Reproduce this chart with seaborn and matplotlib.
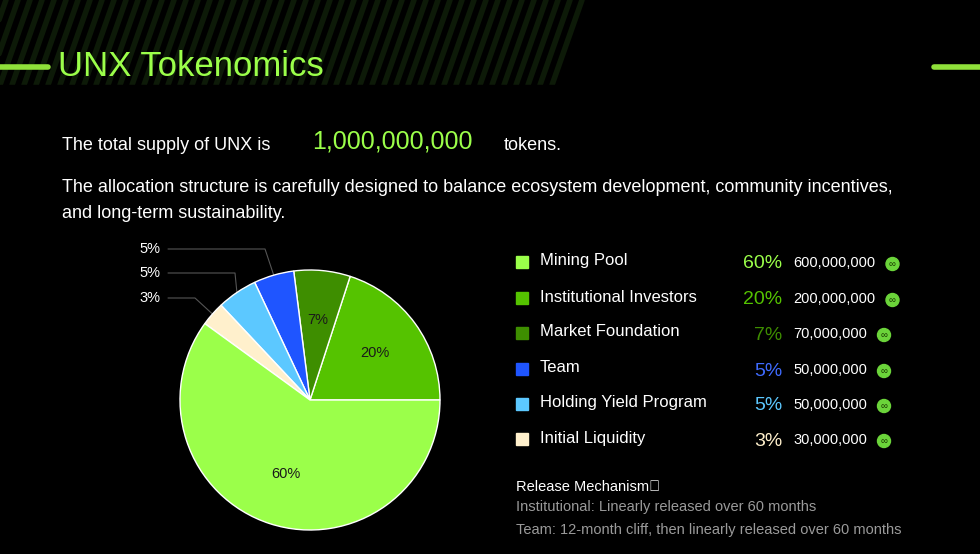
import numpy as np
import matplotlib
matplotlib.use("Agg")
import matplotlib.pyplot as plt
import seaborn as sns

sns.set_theme(style="dark", rc={"font.family": "Liberation Sans"})

# data
categories = ["Institutional Investors", "Market Foundation", "Team",
              "Holding Yield Program", "Initial Liquidity", "Mining Pool"]
shares = [20, 7, 5, 5, 3, 60]
colors = ["#55c300", "#3e8e00", "#1f55ff", "#5cc8ff", "#fff0cc", "#9bff4a"]

legend_order = ["Mining Pool", "Institutional Investors", "Market Foundation",
                "Team", "Holding Yield Program", "Initial Liquidity"]
legend_amounts = ["600,000,000", "200,000,000", "70,000,000",
                  "50,000,000", "50,000,000", "30,000,000"]
pct_colors = {"Mining Pool": "#9bff4a", "Institutional Investors": "#55c300",
              "Market Foundation": "#3e8e00", "Team": "#3f6bff",
              "Holding Yield Program": "#5cc8ff", "Initial Liquidity": "#fff0cc"}

fig = plt.figure(figsize=(9.8, 5.54), dpi=100, facecolor="black")

# background / text layer in pixel coordinates
bg = fig.add_axes([0, 0, 1, 1])
bg.set_xlim(0, 980)
bg.set_ylim(554, 0)
bg.axis("off")
bg.set_facecolor("black")
for x0 in range(-60, 560, 12):
    bg.plot([x0, x0 + 30], [85, 0], color="#0d1a08", lw=4, zorder=0)
bg.fill_between([0, 980], 85, 110, color="black", zorder=0.5)
bg.plot([0, 48], [67, 67], color="#8fe03a", lw=4, solid_capstyle="round")
bg.plot([934, 980], [67, 67], color="#8fe03a", lw=4, solid_capstyle="round")
bg.text(58, 67, "UNX Tokenomics", color="#9bff4a", fontsize=25, va="center")

bg.text(62, 145, "The total supply of UNX is", color="white", fontsize=13, va="center")
bg.text(312, 142, "1,000,000,000", color="#9bff4a", fontsize=18, va="center")
bg.text(504, 145, "tokens.", color="white", fontsize=13, va="center")
bg.text(62, 188, "The allocation structure is carefully designed to balance ecosystem development, community incentives,",
        color="white", fontsize=13, va="center")
bg.text(62, 214, "and long-term sustainability.", color="white", fontsize=13, va="center")

# legend
rows = [261, 297, 332, 368, 403, 438]
share_of = dict(zip(categories, shares))
col_of = dict(zip(categories, colors))
for y, name, amt in zip(rows, legend_order, legend_amounts):
    bg.add_patch(plt.Rectangle((516, y - 5), 12, 12, color=col_of[name]))
    bg.text(540, y, name, color="white", fontsize=12, va="center")
    bg.text(782, y + 3, f"{share_of[name]}%", color=pct_colors[name], fontsize=14,
            va="center", ha="right")
    bg.text(793, y + 2, amt, color="white", fontsize=10.5, va="center")
    icx = 877 + 8.5 * (len(amt) - 10)
    bg.add_patch(plt.Circle((icx + 7, y + 3), 6.5, color="#6bd43a"))
    bg.text(icx + 7, y + 3, "∞", color="#1a3a00", fontsize=7, ha="center", va="center")

bg.text(516, 487, "Release Mechanism：", color="white", fontsize=10.5, va="center")
bg.text(516, 507, "Institutional: Linearly released over 60 months", color="#9a9a9a",
        fontsize=10.5, va="center")
bg.text(516, 530, "Team: 12-month cliff, then linearly released over 60 months", color="#9a9a9a",
        fontsize=10.5, va="center")

# pie
ax = fig.add_axes([180 / 980, 24 / 554, 260 / 980, 260 / 554])
wedges, _ = ax.pie(shares, colors=colors, startangle=0, counterclock=True,
                   radius=1.0)
ax.set_xlim(-1, 1)
ax.set_ylim(-1, 1)
ax.set_aspect("equal")
ax.axis("off")

# inner labels and outside leader labels
label_y = {2: 249, 3: 273, 4: 298}
elbow_x = {2: 265, 3: 235, 4: 195}
cx, cy, r = 310, 400, 130
for i, w in enumerate(wedges):
    mid = np.deg2rad((w.theta1 + w.theta2) / 2)
    if i in label_y:
        px, py = cx + r * np.cos(mid), cy - r * np.sin(mid)
        ly = label_y[i]
        bg.plot([168, elbow_x[i], px], [ly, ly, py], color="#555555", lw=0.8)
        bg.text(160, ly, f"{shares[i]}%", color="white", fontsize=10.5,
                ha="right", va="center")
    else:
        rr = 0.62 if i != 5 else 0.6
        ax.text(rr * np.cos(mid), rr * np.sin(mid), f"{shares[i]}%",
                color="#1a1a1a", fontsize=10.5, ha="center", va="center")

fig.savefig("out.png", dpi=100, facecolor="black")
